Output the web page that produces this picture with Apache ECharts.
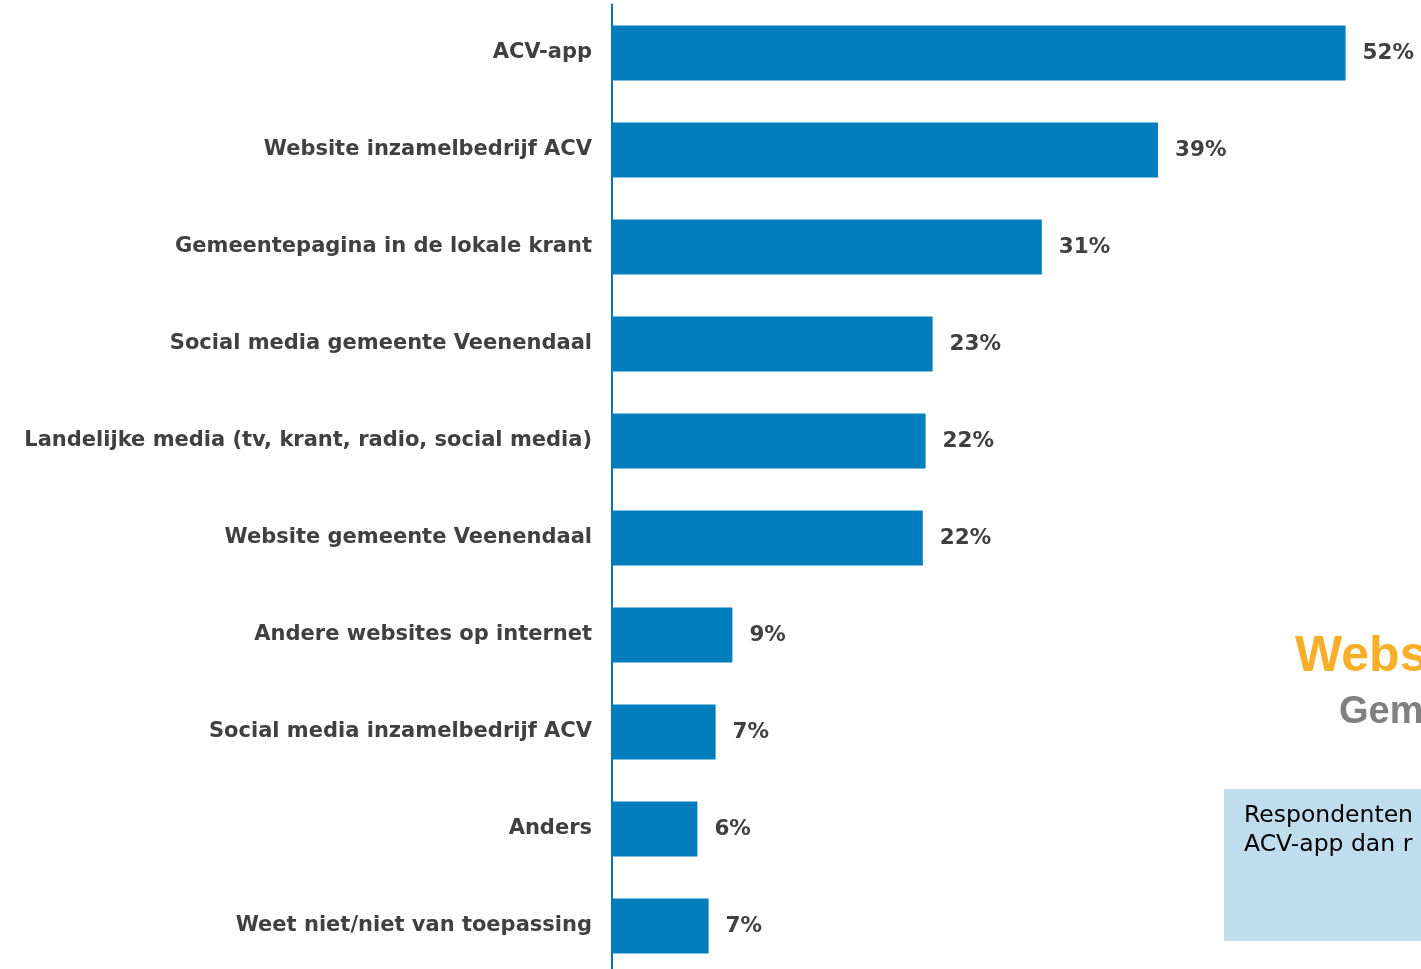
<!DOCTYPE html>
<html><head><meta charset="utf-8">
<script src="https://cdn.jsdelivr.net/npm/echarts@6/dist/echarts.min.js"></script>
<style>html,body{margin:0;padding:0;background:#fff;}#c{width:1421px;height:969px;}</style>
</head><body><div id="c"></div>
<script>
const categories = [
  "ACV-app",
  "Website inzamelbedrijf ACV",
  "Gemeentepagina in de lokale krant",
  "Social media gemeente Veenendaal",
  "Landelijke media (tv, krant, radio, social media)",
  "Website gemeente Veenendaal",
  "Andere websites op internet",
  "Social media inzamelbedrijf ACV",
  "Anders",
  "Weet niet/niet van toepassing"
];
const values = [52.4, 39.0, 30.7, 22.9, 22.4, 22.2, 8.6, 7.4, 6.1, 6.9];
const valueLabels = ["52%", "39%", "31%", "23%", "22%", "22%", "9%", "7%", "6%", "7%"];

const chart = echarts.init(document.getElementById('c'), null, {renderer: 'canvas'});
const font = "DejaVu Sans, Verdana, sans-serif";
chart.setOption({
  animation: false,
  backgroundColor: '#ffffff',
  grid: {left: 612, top: 4.5, width: 805, height: 970, containLabel: false, outerBoundsMode: 'none'},
  xAxis: {type: 'value', min: 0, max: 57.5, show: false},
  yAxis: {
    type: 'category', data: categories, inverse: true,
    axisLine: {show: true, lineStyle: {color: '#0079BC', width: 2}},
    axisTick: {show: false},
    axisLabel: {color: '#404040', fontFamily: font, fontWeight: 'bold', fontSize: 21, margin: 20, padding: [4, 0, 0, 0]}
  },
  series: [{
    type: 'bar', data: values, barWidth: 55,
    itemStyle: {color: '#007DBC'},
    label: {show: true, position: 'right', distance: 17, color: '#404040', fontFamily: font, fontWeight: 'bold', fontSize: 21.5,
      padding: [4, 0, 0, 0], formatter: p => valueLabels[p.dataIndex]}
  }],
  graphic: [
    {type: 'rect', shape: {x: 1224, y: 789, width: 200, height: 152}, style: {fill: '#BFDDED'}},
    {type: 'text', style: {x: 1244, y: 801, text: 'Respondenten\nACV-app dan r', fill: '#000', font: '23.5px ' + font, lineHeight: 29}},
    {type: 'text', style: {x: 1295, y: 632, text: 'Webs', fill: '#F9AE28', font: 'bold 50px "Liberation Sans Narrow", "Liberation Sans", Arial, sans-serif'}},
    {type: 'text', style: {x: 1339, y: 694, text: 'Gem', fill: '#808080', font: 'bold 38px "Liberation Sans Narrow", "Liberation Sans", Arial, sans-serif'}}
  ]
});
</script></body></html>
